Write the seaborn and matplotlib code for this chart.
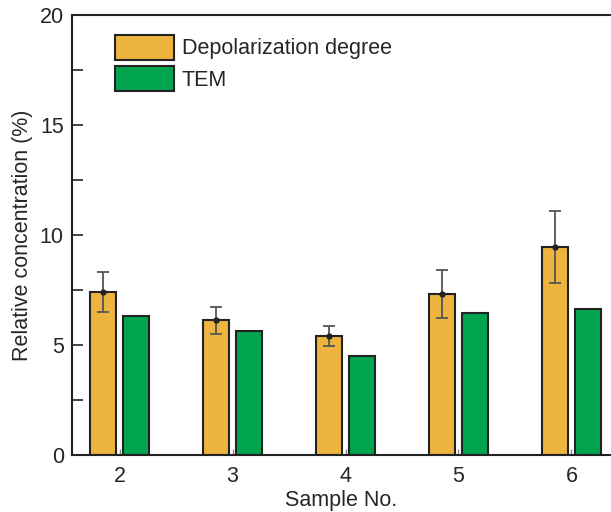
import matplotlib
matplotlib.use("Agg")
import matplotlib.pyplot as plt
import seaborn as sns
import pandas as pd
import numpy as np
from matplotlib.ticker import MultipleLocator

samples = ["2", "3", "4", "5", "6"]
depol = [7.42, 6.13, 5.42, 7.33, 9.45]
depol_err = [0.90, 0.62, 0.45, 1.10, 1.62]
tem = [6.32, 5.64, 4.52, 6.44, 6.65]
series = ["Depolarization degree", "TEM"]
colors = ["#EDB43F", "#00A44F"]

df = pd.DataFrame({
    "Sample": samples * 2,
    "Value": depol + tem,
    "Series": [series[0]] * len(samples) + [series[1]] * len(samples),
})

sns.set_style("ticks")
plt.rcParams["font.family"] = ["Liberation Sans", "DejaVu Sans"]

fig = plt.figure(figsize=(6.11, 5.12), dpi=100)
ax = fig.add_axes([0.118, 0.111, 0.882, 0.860])

sns.barplot(data=df, x="Sample", y="Value", hue="Series", palette=colors,
            saturation=1, width=0.584, gap=0.21, edgecolor="#222222", linewidth=1.5,
            errorbar=None, ax=ax, zorder=2)

# error bars on the depolarization bars
dep_patches = [p for p in ax.patches[:len(samples)]]
xs = [p.get_x() + p.get_width() / 2 for p in dep_patches]
ax.errorbar(xs, depol, yerr=depol_err, fmt="o", color="#222222", ecolor="#555555",
            markersize=3.5, elinewidth=1.3, capsize=4.2, capthick=1.3, zorder=3)

ax.set_ylim(0, 20)
ax.set_xlim(-0.42, 4.35)
ax.yaxis.set_major_locator(MultipleLocator(5))
ax.yaxis.set_minor_locator(MultipleLocator(2.5))
ax.tick_params(axis="y", which="major", direction="in", length=8, width=1.2,
               labelsize=15.5, pad=6, color="#222222")
ax.tick_params(axis="y", which="minor", direction="in", length=8, width=1.2, color="#222222")
ax.tick_params(axis="x", direction="in", length=4, width=1, labelsize=15.5, pad=8,
               color="#888888")

for s in ["left", "bottom", "top"]:
    ax.spines[s].set_linewidth(1.5)
    ax.spines[s].set_color("#222222")
ax.spines["right"].set_visible(False)

ax.set_xlabel("Sample No.", fontsize=15.5, labelpad=2)
ax.set_ylabel("Relative concentration (%)", fontsize=15.5, labelpad=5)

leg = ax.legend(loc="upper left", bbox_to_anchor=(0.08, 0.955), frameon=False,
                borderpad=0, borderaxespad=0,
                fontsize=15.5, handlelength=2.75, handleheight=1.4, handletextpad=0.35,
                labelspacing=0.3)
for h in leg.legend_handles:
    h.set_edgecolor("#222222")
    h.set_linewidth(1.5)

fig.savefig("out.png", dpi=100)
